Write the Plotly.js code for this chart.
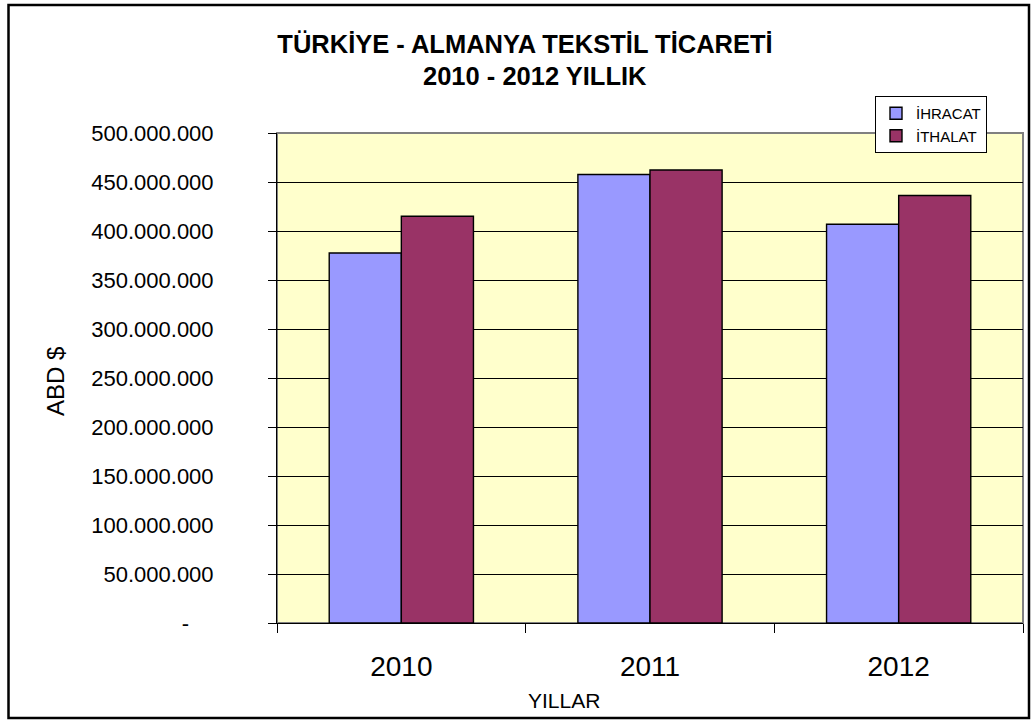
<!DOCTYPE html>
<html>
<head>
<meta charset="utf-8">
<script src="https://cdn.plot.ly/plotly-3.0.1.min.js"></script>
<style>html,body{margin:0;padding:0;background:#fff;}#chart{width:1031px;height:720px;}</style>
</head>
<body>
<div id="chart"></div>
<script>
const years = ['2010', '2011', '2012'];
const ihracat = [377600000, 457600000, 406900000];
const ithalat = [415000000, 462300000, 436200000];
const seriesNames = ['İHRACAT', 'İTHALAT'];
const yTickVals = [0, 50000000, 100000000, 150000000, 200000000, 250000000, 300000000, 350000000, 400000000, 450000000, 500000000];
const yTickText = ['-\u00a0\u00a0\u00a0\u00a0', '50.000.000', '100.000.000', '150.000.000', '200.000.000', '250.000.000', '300.000.000', '350.000.000', '400.000.000', '450.000.000', '500.000.000'];
const titleLine1 = 'TÜRKİYE - ALMANYA TEKSTİL TİCARETİ';
const titleLine2 = '2010 - 2012 YILLIK';
const xTitle = 'YILLAR';
const yTitle = 'ABD $';

const W = 1031, H = 720;
const L = 277, R = 8, T = 133, B = 97;
const pw = W - L - R, ph = H - T - B;
const px = x => (x - L) / pw;
const py = y => (H - B - y) / ph;
const FONT = 'Arial, "Liberation Sans", sans-serif';

const traces = [
  {type: 'bar', name: seriesNames[0], x: years, y: ihracat,
   marker: {color: '#9999FF', line: {color: '#000', width: 1.4}}},
  {type: 'bar', name: seriesNames[1], x: years, y: ithalat,
   marker: {color: '#993366', line: {color: '#000', width: 1.4}}}
];

const layout = {
  width: W, height: H,
  margin: {l: L, r: R, t: T, b: B},
  paper_bgcolor: '#fff',
  plot_bgcolor: '#FFFFCC',
  font: {family: FONT, color: '#000'},
  barmode: 'group',
  bargap: 0.42,
  bargroupgap: 0,
  showlegend: true,
  title: {text: '<b>' + titleLine1 + '</b>', font: {size: 25.5, family: FONT, color: '#000'},
          x: 525 / W, xanchor: 'center', xref: 'container',
          y: 1 - 44 / H, yanchor: 'middle', yref: 'container'},
  xaxis: {
    type: 'category', showgrid: false, zeroline: false,
    showline: true, linecolor: '#000', linewidth: 1,
    ticks: 'outside', tickson: 'boundaries', ticklen: 9, tickcolor: '#000', tickwidth: 1,
    tickfont: {size: 28, family: FONT, color: '#000'},
    ticklabelstandoff: 18,
    fixedrange: true
  },
  yaxis: {
    range: [0, 500000000], tickvals: yTickVals, ticktext: yTickText,
    showgrid: true, gridcolor: '#000', gridwidth: 1, zeroline: false,
    showline: true, linecolor: '#000', linewidth: 1,
    ticks: 'outside', ticklen: 8, tickcolor: '#000', tickwidth: 1,
    tickfont: {size: 22, family: FONT, color: '#000'},
    ticklabelstandoff: 50,
    fixedrange: true
  },
  legend: {
    x: px(875), y: py(96), xanchor: 'left', yanchor: 'top',
    bgcolor: '#fff', bordercolor: '#000', borderwidth: 1,
    font: {size: 15, family: FONT, color: '#000'},
    itemwidth: 30, tracegroupgap: 0
  },
  shapes: [
    {type: 'rect', xref: 'paper', yref: 'paper', x0: 0, x1: 1, y0: 0, y1: 1,
     line: {color: '#808080', width: 2}, layer: 'below'},
    {type: 'rect', xref: 'paper', yref: 'paper', x0: px(8.5), x1: px(1029), y0: py(718), y1: py(5),
     line: {color: '#000', width: 2.5}}
  ],
  annotations: [
    {text: '<b>' + titleLine2 + '</b>', xref: 'paper', yref: 'paper', x: px(535), y: py(76),
     xanchor: 'center', yanchor: 'middle', showarrow: false,
     font: {size: 25.5, family: FONT, color: '#000'}},
    {text: xTitle, xref: 'paper', yref: 'paper', x: px(564), y: py(700),
     xanchor: 'center', yanchor: 'middle', showarrow: false,
     font: {size: 21, family: FONT, color: '#000'}},
    {text: yTitle, xref: 'paper', yref: 'paper', x: px(55), y: py(382),
     xanchor: 'center', yanchor: 'middle', showarrow: false, textangle: -90,
     font: {size: 24, family: FONT, color: '#000'}}
  ]
};

Plotly.newPlot('chart', traces, layout, {displayModeBar: false, staticPlot: true});
</script>
</body>
</html>
